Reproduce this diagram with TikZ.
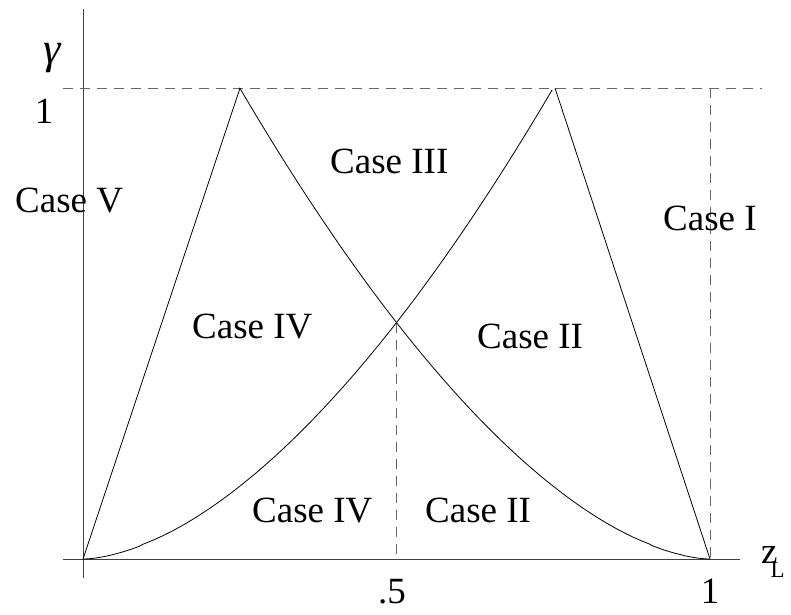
\documentclass[tikz,border=0pt]{standalone}
\usepackage{fontspec}
\setmainfont{Liberation Serif}
\begin{document}
\begin{tikzpicture}[x=1pt,y=-1pt,
  lbl/.style={anchor=base west,inner sep=0pt,font=\fontsize{37}{40}\selectfont},
  lblc/.style={anchor=base,inner sep=0pt,font=\fontsize{37}{40}\selectfont},
  axis/.style={draw=black!75,line width=0.9pt},
  guide/.style={draw=black!60,line width=0.9pt,dash pattern=on 10pt off 7pt},
  curve/.style={draw=black,line width=0.8pt,line join=round}]
\useasboundingbox (0,0) rectangle (791,614);
% key points
\coordinate (O) at (83,559);
\coordinate (Vtop) at (83,9);
\coordinate (Vbot) at (83,578);
\coordinate (Hl) at (63,559);
\coordinate (Hr) at (740,559);
\coordinate (Dl) at (63,88);
\coordinate (Dr) at (762,88);
\coordinate (P1) at (240,88);
\coordinate (P2) at (555,88);
\coordinate (Q) at (710,559);
\coordinate (Qtop) at (710,88);
\coordinate (X) at (396.5,322.6);
\coordinate (Xb) at (396.5,559);
% axes
\draw[axis] (Vtop) -- (Vbot);
\draw[axis] (Hl) -- (Hr);
% dashed guides
\draw[guide] (Dl) -- (Dr);
\draw[guide] (Qtop) -- (Q);
\draw[guide] (X) -- (Xb);
% straight lines
\draw[curve] (O) -- (P1);
\draw[curve] (P2) -- (Q);
% curves
\draw[curve] (O) -- plot[domain=0.002:0.75,samples=120] ({83+627*\x},{559-471*(\x/0.75)^1.7});
\draw[curve] (P1) -- plot[domain=0.25:0.998,samples=120] ({83+627*\x},{559-471*((1-\x)/0.75)^1.7}) -- (Q);
% labels
\node[lblc,font=\fontsize{44}{46}\selectfont\itshape] (gam) at (52,63) {γ};
\node[lblc] (one) at (44,123) {1};
\node[lbl] (c5) at (15,212) {Case V};
\node[lbl] (c3) at (330,173) {Case III};
\node[lbl] (c1) at (663,230) {Case I};
\node[lbl] (c4a) at (192,338) {Case IV};
\node[lbl] (c2a) at (477,348) {Case II};
\node[lbl] (c4b) at (252,522) {Case IV};
\node[lbl] (c2b) at (425,522) {Case II};
\node[lbl] (half) at (378,603) {.5};
\node[lblc] (oneb) at (710,603) {1};
\node[lbl] (zl) at (761,563) {z\kern-7pt\raisebox{-14pt}{\fontsize{23}{25}\selectfont L}};
\end{tikzpicture}
\end{document}
